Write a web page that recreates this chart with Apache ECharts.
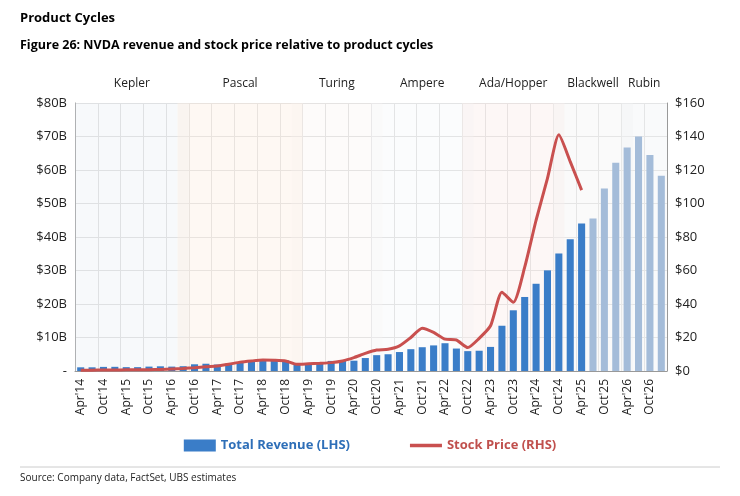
<!DOCTYPE html><html><head><meta charset="utf-8"><script src="https://cdn.jsdelivr.net/npm/echarts@6/dist/echarts.min.js"></script>
<style>body{margin:0}#c{width:740px;height:496px}</style></head><body><div id="c"></div><script>
const categories=[];(function(){const m=['Apr','Jul','Oct','Jan'];let y=14;for(let i=0;i<52;i++){const mm=m[i%4];if(mm==='Jan')y++;categories.push(mm+"'"+y);}})();
const revenue=[1.10,1.10,1.23,1.25,1.15,1.15,1.31,1.40,1.31,1.43,2.00,2.17,1.94,2.23,2.64,2.91,3.21,3.12,3.18,2.21,2.22,2.58,3.01,3.11,3.08,3.87,4.73,5.00,5.66,6.51,7.10,7.64,8.29,6.70,5.93,6.05,7.19,13.51,18.12,22.10,26.04,30.04,35.08,39.33,44.06,45.5,54.5,62.2,66.7,70.0,64.5,58.3];
const forecastStart=45;
const stock=[0.5,0.5,0.6,0.6,0.7,0.7,0.8,0.9,1.2,1.5,2.0,2.6,3.0,4.0,5.3,6.0,6.5,6.4,6.0,4.0,4.3,4.6,5.0,6.0,8.0,10.5,12.5,13.0,15.0,20.0,25.5,23.0,19.0,18.5,14.0,19.5,27.0,47.0,41.0,62.0,90.0,115.0,141.0,125.0,108.0];
const cycles=[['Kepler',0,9],['Pascal',9,19],['Turing',19,26],['Ampere',26,34],['Ada/Hopper',34,42],['Blackwell',42,48],['Rubin',48,52]];
const cycleColors=['rgba(230,236,242,0.3)','rgba(252,238,225,0.4)','rgba(248,242,238,0.3)','rgba(242,245,248,0.3)','rgba(250,234,232,0.4)','rgba(242,242,242,0.4)','rgba(240,242,246,0.4)'];
const ch=echarts.init(document.getElementById('c'));
const marks=cycles.map((c,i)=>[{xAxis:categories[c[1]],itemStyle:{color:cycleColors[i]},label:{show:true,formatter:c[0],position:'insideTop',offset:[0,-30],color:'#222',fontSize:12,fontFamily:'Open Sans'}},{xAxis:categories[Math.min(c[2],51)]}]);
ch.setOption({animation:false,textStyle:{fontFamily:'Open Sans'},
graphic:[{type:'text',left:20,top:12,style:{text:'Product Cycles',font:'bold 13px "Open Sans"',fill:'#000'}},
{type:'text',left:20,top:39,style:{text:'Figure 26: NVDA revenue and stock price relative to product cycles',font:'bold 12.5px "Open Sans"',fill:'#000'}},
{type:'line',shape:{x1:20,y1:467,x2:720,y2:467},style:{stroke:'#ccc',lineWidth:1}},
{type:'text',left:20,top:473,style:{text:'Source: Company data, FactSet, UBS estimates',font:'10px "Open Sans"',fill:'#222'}}],
legend:{bottom:39,left:'center',itemGap:60,selectedMode:false,textStyle:{fontWeight:'bold',fontSize:13},
data:[{name:'Total Revenue (LHS)',icon:'rect',itemStyle:{color:'#3a7dc8'},textStyle:{color:'#2e6fb8'}},{name:'Stock Price (RHS)',icon:'path://M0,0 L32,0 L32,3.5 L0,3.5 Z',itemStyle:{color:'#c9504f'},textStyle:{color:'#c0504d'}}],itemWidth:32,itemHeight:12},
grid:{left:75,right:73,top:103,bottom:125},
xAxis:{type:'category',data:categories,axisTick:{show:false},axisLine:{lineStyle:{color:'#999'}},
axisLabel:{interval:1,rotate:90,fontSize:12,color:'#222'},splitLine:{show:true,interval:1,lineStyle:{color:'#ddd'}}},
yAxis:[{type:'value',min:0,max:80,interval:10,axisLine:{show:true,lineStyle:{color:'#999'}},axisLabel:{fontSize:13,color:'#222',formatter:v=>v===0?'-':'$'+v+'B'},splitLine:{lineStyle:{color:'#ddd'}}},
{type:'value',min:0,max:160,interval:20,axisLine:{show:true,lineStyle:{color:'#999'}},axisLabel:{fontSize:13,color:'#222',formatter:v=>'$'+v},splitLine:{show:false}}],
series:[{name:'Total Revenue (LHS)',type:'bar',barWidth:'62%',data:revenue.map((v,i)=>({value:v,itemStyle:{color:i>=forecastStart?'#a4bcd9':'#3a7dc8'}})),markArea:{silent:true,data:marks}},
{name:'Stock Price (RHS)',type:'line',yAxisIndex:1,data:stock,smooth:0.2,symbol:'none',lineStyle:{color:'#c9504f',width:3},itemStyle:{color:'#c9504f'}}]});
</script></body></html>
